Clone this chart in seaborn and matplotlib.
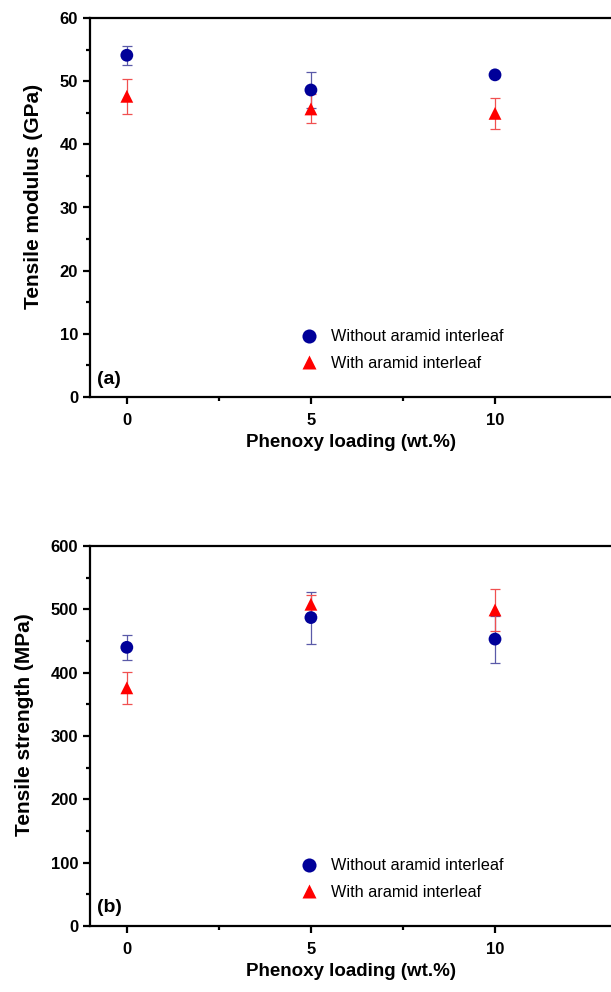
import matplotlib
matplotlib.use("Agg")
import matplotlib.pyplot as plt
import seaborn as sns
import numpy as np
import pandas as pd
from matplotlib.ticker import MultipleLocator, FixedLocator

# data
loading = [0, 5, 10]
groups = ["Without aramid interleaf", "With aramid interleaf"]

modulus_without = [54.1, 48.6, 51.0]
modulus_without_err = [1.5, 2.8, 0.4]
modulus_with = [47.6, 45.6, 44.9]
modulus_with_err = [2.8, 2.3, 2.5]

strength_without = [440, 487, 453]
strength_without_err = [20, 41, 37]
strength_with = [376, 508, 499]
strength_with_err = [25, 15, 33]

colors = {"Without aramid interleaf": "#000099", "With aramid interleaf": "#ff0000"}
err_colors = {"Without aramid interleaf": "#5a5aa8", "With aramid interleaf": "#f05050"}
markers = {"Without aramid interleaf": "o", "With aramid interleaf": "^"}

sns.set_style("ticks")
plt.rcParams['font.family'] = ['Liberation Sans', 'DejaVu Sans']
plt.rcParams['axes.linewidth'] = 1.6
for k in ['text.color', 'axes.labelcolor', 'xtick.color', 'ytick.color', 'axes.edgecolor']:
    plt.rcParams[k] = 'black'


def make_df(y0, e0, y1, e1):
    return pd.DataFrame({
        "loading": loading + loading,
        "value": y0 + y1,
        "err": e0 + e1,
        "group": [groups[0]] * 3 + [groups[1]] * 3,
    })


def draw_panel(ax, df, ymax, ymajor, yminor, ylabel, tag):
    for g in groups:
        d = df[df.group == g]
        ax.errorbar(d.loading, d.value, yerr=d.err, fmt="none",
                    ecolor=err_colors[g], elinewidth=0.9, capsize=3.5, capthick=0.9, zorder=2)
    sns.scatterplot(data=df, x="loading", y="value", hue="group", style="group",
                    palette=colors, markers=markers, s=85, edgecolor="none",
                    ax=ax, zorder=3, legend=True)
    ax.set_xlim(-1.0, 13.15)
    ax.set_ylim(0, ymax)
    ax.xaxis.set_major_locator(FixedLocator(loading))
    ax.xaxis.set_minor_locator(FixedLocator([2.5, 7.5]))
    ax.yaxis.set_major_locator(MultipleLocator(ymajor))
    ax.yaxis.set_minor_locator(MultipleLocator(yminor))
    ax.tick_params(which="major", length=5, width=1.6, labelsize=12, direction="out", pad=3.5)
    ax.tick_params(which="minor", length=3, width=1.6, direction="out")
    ax.tick_params(axis="x", which="major", pad=6.5)
    for lab in ax.get_xticklabels() + ax.get_yticklabels():
        lab.set_fontweight("bold")
    ax.set_xlabel("Phenoxy loading (wt.%)", fontsize=13.5, fontweight="bold", labelpad=4)
    ax.set_ylabel(ylabel, fontsize=15, fontweight="bold", labelpad=12)
    ax.yaxis.label.set_y(0.53)
    sns.despine(ax=ax, top=False, right=True)
    ax.text(0.013, 0.025, tag, transform=ax.transAxes, fontsize=14, fontweight="bold",
            ha="left", va="bottom")
    leg = ax.legend(loc="lower left", bbox_to_anchor=(0.361, 0.03), frameon=False,
                    fontsize=11.7, handletextpad=0.35, labelspacing=0.72, markerscale=1.1)
    return leg


fig = plt.figure(figsize=(6.11, 9.92), dpi=100)
ax1 = fig.add_axes([90 / 611, 1 - 397 / 992, 1 - 90 / 611, (397 - 18) / 992])
ax2 = fig.add_axes([90 / 611, 1 - 926 / 992, 1 - 90 / 611, (926 - 546) / 992])

draw_panel(ax1, make_df(modulus_without, modulus_without_err, modulus_with, modulus_with_err),
           60, 10, 5, "Tensile modulus (GPa)", "(a)")
draw_panel(ax2, make_df(strength_without, strength_without_err, strength_with, strength_with_err),
           600, 100, 50, "Tensile strength (MPa)", "(b)")

fig.savefig("out.png", dpi=100)
